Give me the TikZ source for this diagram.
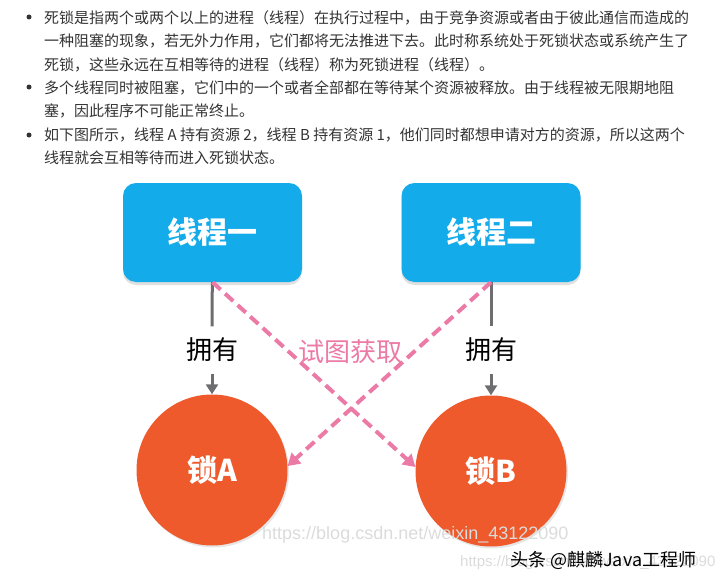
\documentclass[tikz,border=0pt]{standalone}
\usepackage{fontspec}
\setmainfont{Noto Sans CJK SC}
\newfontfamily\wmfont{Liberation Sans}
\usepackage{tikz}
\usetikzlibrary{positioning,arrows.meta,shadows}
\usepackage{xcolor}
\definecolor{skyblue}{HTML}{13ABE9}
\definecolor{lockred}{HTML}{EE5A2B}
\definecolor{trypink}{HTML}{EC7AA6}
\definecolor{holdgray}{HTML}{6E6E70}
\definecolor{bodytext}{HTML}{333333}

\begin{document}
\begin{tikzpicture}[x=1pt,y=-1pt,
    para/.style={anchor=base west, inner sep=0pt, text=bodytext, font=\fontsize{15}{18}\selectfont},
    thread/.style={rectangle, rounded corners=13pt, fill=skyblue, text=white,
        minimum width=179pt, minimum height=99pt, font=\fontsize{30}{36}\selectfont\bfseries,
        drop shadow={shadow xshift=0pt, shadow yshift=-3pt, opacity=0.25}},
    lock/.style={circle, fill=lockred, text=white, minimum size=151pt, inner sep=0pt,
        font=\fontsize{30}{34}\selectfont\bfseries,
        drop shadow={shadow xshift=1.5pt, shadow yshift=-2pt, opacity=0.2}},
    own/.style={inner sep=0pt, minimum height=47pt, font=\fontsize{26}{30}\selectfont},
    hold/.style={draw=holdgray, line width=3pt},
    tryget/.style={draw=trypink, line width=4pt, dash pattern=on 11pt off 6pt,
        -{Triangle[length=12pt,width=14pt]}},
    wmark/.style={anchor=west, inner sep=0pt, text=gray!28, font=\wmfont\fontsize{18}{20}\selectfont}]

    \clip (0,0) rectangle (720,586);

    % Text above the diagram
    \fill[bodytext] (29,17) circle (2.5pt);
    \fill[bodytext] (29,87) circle (2.5pt);
    \fill[bodytext] (29,135) circle (2.5pt);
    \node[para] (line1) at (44,23.7) {死锁是指两个或两个以上的进程（线程）在执行过程中，由于竞争资源或者由于彼此通信而造成的};
    \node[para] (line2) at (44,47) {一种阻塞的现象，若无外力作用，它们都将无法推进下去。此时称系统处于死锁状态或系统产生了};
    \node[para] (line3) at (44,70.3) {死锁，这些永远在互相等待的进程（线程）称为死锁进程（线程）。};
    \node[para] (line4) at (44,93.6) {多个线程同时被阻塞，它们中的一个或者全部都在等待某个资源被释放。由于线程被无限期地阻};
    \node[para] (line5) at (44,116.9) {塞，因此程序不可能正常终止。};
    \node[para] (line6) at (44,140.2) {如下图所示，线程 A 持有资源 2，线程 B 持有资源 1，他们同时都想申请对方的资源，所以这两个};
    \node[para] (line7) at (44,163.5) {线程就会互相等待而进入死锁状态。};

    % Threads and locks
    \node[thread] (t1) at (212.5,232.5) {线程一};
    \node[thread] (t2) at (491,232.5) {线程二};
    \node[lock] (la) at (212,470) {锁A};
    \node[lock] (lb) at (491,471) {锁B};

    % Held locks
    \node[own] (own1) at (212,350) {拥有};
    \node[own] (own2) at (491,350) {拥有};
    \draw[hold] (t1) -- (own1);
    \draw[hold, -{Triangle[length=10pt,width=12pt]}] (own1) -- (la);
    \draw[hold] (t2) -- (own2);
    \draw[hold, -{Triangle[length=10pt,width=12pt]}] (own2) -- (lb);

    % Wanted locks
    \draw[tryget] (t1.south) -- (lb.177);
    \draw[tryget] (t2.south) -- (la.3);
    \node[text=trypink, font=\fontsize{26}{30}\selectfont] (want) at (350,352) {试图获取};

    % Watermarks
    \node[wmark] (wm1) at (262,535) {https://blog.csdn.net/weixin\_43122090};
    \node[wmark, font=\wmfont\fontsize{15}{17}\selectfont] (wm2) at (460,563) {https://blog.csdn.net/weixin\_43122090};
    \node[anchor=west, inner sep=0pt, font=\fontsize{18}{20}\selectfont] (src) at (510,560) {头条 @麒麟Java工程师};
\end{tikzpicture}
\end{document}
